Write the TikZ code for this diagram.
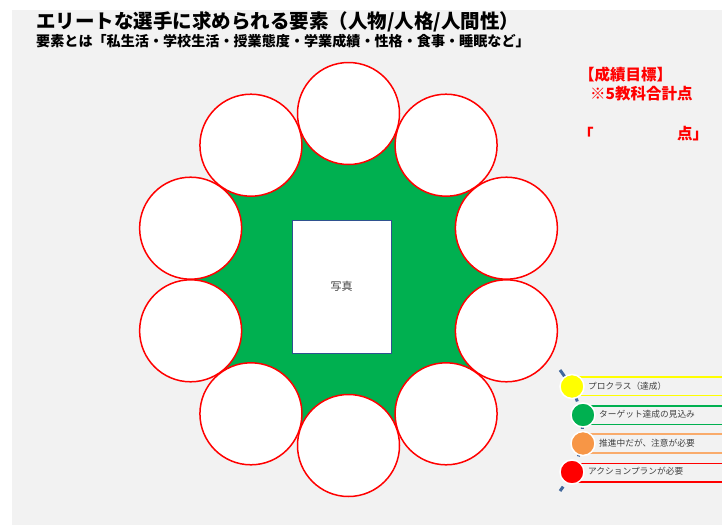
\documentclass[tikz,border=0pt]{standalone}
\usepackage{fontspec}
\setmainfont{Noto Sans CJK JP}
\usetikzlibrary{shadows}
\definecolor{bg}{HTML}{F2F2F2}
\definecolor{ringgreen}{HTML}{00B050}
\definecolor{photoedge}{HTML}{2F528F}
\definecolor{dashblue}{HTML}{41689C}
\definecolor{lyellow}{HTML}{FFFF00}
\definecolor{lgreen}{HTML}{00B050}
\definecolor{lorange}{HTML}{F79646}
\definecolor{lred}{HTML}{FF0000}
\definecolor{txtgray}{HTML}{404040}
\begin{document}
\begin{tikzpicture}[x=1pt,y=-1pt,
  ring/.style={circle, draw=red, fill=white, line width=1.5pt, minimum size=102pt, inner sep=0pt},
  photo/.style={rectangle, draw=photoedge, fill=white, line width=0.9pt, minimum width=99pt, minimum height=133pt,
     text=txtgray, font=\fontsize{11}{12}\selectfont, drop shadow={shadow xshift=1.2pt, shadow yshift=-1.2pt, opacity=0.35}},
  titletext/.style={anchor=west, inner sep=0pt, font=\bfseries\fontsize{19.5}{21}\selectfont},
  subtext/.style={anchor=west, inner sep=0pt, font=\bfseries\fontsize{14.1}{15}\selectfont},
  redtext/.style={anchor=west, inner sep=0pt, text=red, font=\bfseries\fontsize{15.5}{17}\selectfont},
  dot/.style={circle, draw=white, line width=1.5pt, minimum size=24pt, inner sep=0pt},
  legtext/.style={anchor=west, inner sep=0pt, text=txtgray, font=\fontsize{8.7}{9}\selectfont},
  legline/.style={line width=1.6pt}
]
\useasboundingbox (0,0) rectangle (722,525);
\fill[bg] (12,10) rectangle (722,525);

% title
\node[titletext] (title) at (36,22) {エリートな選手に求められる要素（人物/人格/人間性）};
\node[subtext] (sub) at (36,41.5) {要素とは「私生活・学校生活・授業態度・学業成績・性格・食事・睡眠など」};

% target
\node[redtext] (tgt1) at (579,75) {【成績目標】};
\node[redtext] (tgt2) at (590,94) {※5教科合計点};
\node[redtext] (tgt3) at (578,134) {「};
\node[redtext] (tgt4) at (677,134) {点」};

% ring of circles
\foreach \i in {0,...,9}
  \coordinate (p\i) at ({348.5+166*cos(90-36*\i)}, {279.5-166*sin(90-36*\i)});
\fill[ringgreen] (p0) -- (p1) -- (p2) -- (p3) -- (p4) -- (p5) -- (p6) -- (p7) -- (p8) -- (p9) -- cycle;
\foreach \i in {0,...,9}
  \node[ring] (c\i) at (p\i) {};

\node[photo] (photo) at (341.5,286.5) {写真};

% legend
\coordinate (arcTop) at (560,370);
\coordinate (arcBot) at (560,491);
\draw[dashblue, line width=3pt, dash pattern=on 8pt off 6pt] (arcTop) .. controls (590,410) and (590,451) .. (arcBot);

\draw[legline, lyellow] (572,377) -- (722,377) (572,395.5) -- (722,395.5);
\draw[legline, lgreen] (583,406) -- (722,406) (583,424.5) -- (722,424.5);
\draw[legline, lorange!80] (583,434) -- (722,434) (583,453) -- (722,453);
\draw[legline, lred] (572,463.5) -- (722,463.5) (572,482) -- (722,482);

\node[dot, fill=lyellow] (d1) at (572,386.5) {};
\node[dot, fill=lgreen] (d2) at (583,415) {};
\node[dot, fill=lorange] (d3) at (583,443.5) {};
\node[dot, fill=lred] (d4) at (572,472) {};

\node[legtext] (l1) at (588,386) {プロクラス（達成）};
\node[legtext] (l2) at (599,414.5) {ターゲット達成の見込み};
\node[legtext] (l3) at (599,443) {推進中だが、注意が必要};
\node[legtext] (l4) at (588,471.5) {アクションプランが必要};
\end{tikzpicture}
\end{document}
